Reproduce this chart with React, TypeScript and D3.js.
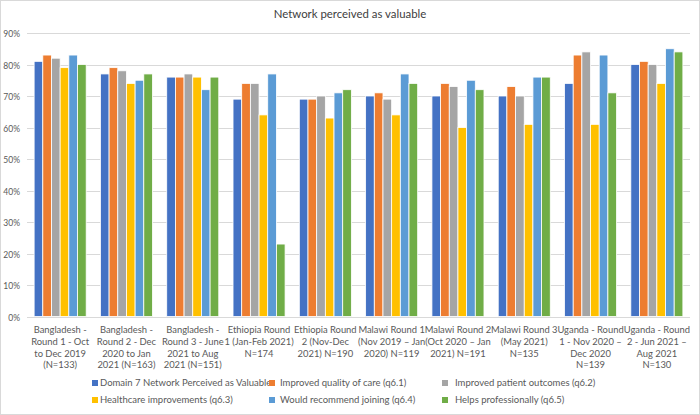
import React, { useRef, useEffect } from 'react';
import * as d3 from 'd3';

const width = 700;
const height = 415;

// group labels, one array of lines per group
const groupLabels: string[][] = [
  ['Bangladesh -', 'Round 1  - Oct', 'to Dec 2019', '(N=133)'],
  ['Bangladesh -', 'Round 2  - Dec', '2020 to Jan', '2021 (N=163)'],
  ['Bangladesh -', 'Round 3  - June', '2021 to Aug', '2021 (N=151)'],
  ['Ethiopia Round', '1 (Jan-Feb 2021)', 'N=174'],
  ['Ethiopia Round', '2 (Nov-Dec', '2021) N=190'],
  ['Malawi Round 1', '(Nov 2019 \u2013 Jan', '2020) N=119'],
  ['Malawi Round 2', '(Oct 2020 \u2013 Jan', '2021) N=191'],
  ['Malawi Round 3', '(May 2021)', 'N=135'],
  ['Uganda - Round', '1 - Nov 2020 \u2013', 'Dec 2020', 'N=139'],
  ['Uganda - Round', '2 - Jun 2021 \u2013', 'Aug 2021', 'N=130'],
];

const seriesNames = [
  'Domain 7 Network Perceived as Valuable',
  'Improved quality of care (q6.1)',
  'Improved patient outcomes (q6.2)',
  'Healthcare improvements (q6.3)',
  'Would recommend joining (q6.4)',
  'Helps professionally (q6.5)',
];

// values in percent, one array per series, in group order
const domain7 = [81, 77, 76, 69, 69, 70, 70, 70, 74, 80];
const qualityOfCare = [83, 79, 76, 74, 69, 71, 74, 73, 83, 81];
const patientOutcomes = [82, 78, 77, 74, 70, 69, 73, 70, 84, 80];
const healthcareImprovements = [79, 74, 76, 64, 63, 64, 60, 61, 61, 74];
const recommendJoining = [83, 75, 72, 77, 71, 77, 75, 76, 83, 85];
const helpsProfessionally = [80, 77, 76, 23, 72, 74, 72, 76, 71, 84];

const seriesValues = [domain7, qualityOfCare, patientOutcomes, healthcareImprovements, recommendJoining, helpsProfessionally];

const yTicks = [0, 10, 20, 30, 40, 50, 60, 70, 80, 90];

const colors = ['#4472C4', '#ED7D31', '#A5A5A5', '#FFC000', '#5B9BD5', '#70AD47'];

const Chart = () => {
  const svg = useRef<SVGSVGElement>(null);

  useEffect(() => {
    const root = d3.select(svg.current);
    root.selectAll('*').remove();

    const left = 27;
    const right = 690;
    const top = 33;
    const bottom = 316.5;
    const font = 'Lato, Carlito, Calibri, sans-serif';
    const textColor = '#595959';

    // chart area border
    root.append('rect')
      .attr('x', 0.5).attr('y', 0.5)
      .attr('width', width - 1).attr('height', height - 1)
      .attr('fill', 'white')
      .attr('stroke', '#d9d9d9');

    root.append('text')
      .attr('x', width / 2).attr('y', 18)
      .attr('text-anchor', 'middle')
      .attr('font-family', font)
      .attr('font-size', 11.4)
      .attr('fill', '#404040')
      .text('Network perceived as valuable');

    const yScale = d3.scaleLinear().domain([0, 90]).range([bottom, top]);

    const xScale = d3.scaleBand<number>()
      .domain(d3.range(groupLabels.length))
      .range([left, right])
      .paddingInner(0.215)
      .paddingOuter(0.1075);

    const inner = d3.scaleBand<number>()
      .domain(d3.range(seriesNames.length))
      .range([0, xScale.bandwidth()]);

    // gridlines + tick labels
    const grid = root.append('g');
    yTicks.forEach(t => {
      const y = Math.round(yScale(t)) + 0.5;
      grid.append('line')
        .attr('x1', left).attr('x2', right)
        .attr('y1', y).attr('y2', y)
        .attr('stroke', '#d9d9d9');
      grid.append('text')
        .attr('x', 20).attr('y', y + 3)
        .attr('text-anchor', 'end')
        .attr('font-family', font)
        .attr('font-size', 8.5)
        .attr('fill', textColor)
        .text(`${t}%`);
    });

    // bars
    seriesValues.forEach((vals, si) => {
      root.append('g')
        .selectAll('rect')
        .data(vals)
        .join('rect')
        .attr('x', (d, i) => (xScale(i) as number) + (inner(si) as number))
        .attr('y', d => yScale(d))
        .attr('width', inner.bandwidth())
        .attr('height', d => yScale(0) - yScale(d))
        .attr('fill', colors[si])
        .attr('stroke', 'white')
        .attr('stroke-width', 0.8);
    });

    // category labels
    const labels = root.append('g');
    groupLabels.forEach((lines, i) => {
      const cx = (xScale(i) as number) + xScale.bandwidth() / 2;
      const t = labels.append('text')
        .attr('text-anchor', 'middle')
        .attr('font-family', font)
        .attr('font-size', 9.4)
        .attr('fill', textColor);
      lines.forEach((ln, j) => {
        t.append('tspan').attr('x', cx).attr('y', 333 + j * 11.8).text(ln);
      });
    });

    // legend
    const legendCols = [
      { sq: 92, tx: 100 },
      { sq: 269, tx: 280 },
      { sq: 442, tx: 455 },
    ];
    const legend = root.append('g');
    seriesNames.forEach((name, i) => {
      const col = legendCols[i % 3];
      const y = i < 3 ? 386 : 403;
      legend.append('rect')
        .attr('x', col.sq).attr('y', y - 6)
        .attr('width', 6).attr('height', 6)
        .attr('fill', colors[i]);
      legend.append('text')
        .attr('x', col.tx).attr('y', y)
        .attr('font-family', font)
        .attr('font-size', 9.5)
        .attr('fill', textColor)
        .text(name);
    });
  }, []);

  return (
    <svg
      width={width}
      height={height}
      ref={svg}
      style={{ position: 'absolute', left: 0, top: 0, display: 'block' }}
    >
    </svg>
  );
};

export default function App() {
  return <Chart />;
}
